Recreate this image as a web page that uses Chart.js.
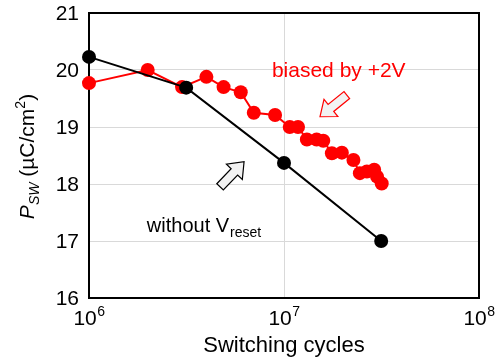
<!DOCTYPE html>
<html><head><meta charset="utf-8">
<script src="https://cdn.jsdelivr.net/npm/chart.js@4/dist/chart.umd.min.js"></script>
<style>html,body{margin:0;padding:0;background:#fff}#wrap{width:500px;height:358px}</style>
</head><body><div id="wrap"><canvas id="c" width="500" height="358"></canvas></div>
<script>
// Data
const blackX = [1e6, 3.15e6, 1e7, 3.15e7];
const blackY = [20.23, 19.69, 18.37, 17.0];
const redX = [1e6, 2e6, 3e6, 4e6, 4.9e6, 6e6, 7e6, 9e6, 1.07e7, 1.18e7, 1.31e7, 1.47e7, 1.59e7, 1.76e7, 1.98e7, 2.27e7, 2.45e7, 2.66e7, 2.9e7, 3e7, 3.17e7];
const redY = [19.77, 20.0, 19.70, 19.88, 19.70, 19.61, 19.25, 19.21, 19.0, 19.0, 18.78, 18.78, 18.76, 18.54, 18.55, 18.42, 18.19, 18.22, 18.25, 18.13, 18.01];
const xTickExp = [6, 7, 8];
const yTicks = [16, 17, 18, 19, 20, 21];
const xTitle = 'Switching cycles';
const redLabel = 'biased by +2V';
const blackLabel = 'without V';
const blackLabelSub = 'reset';
// annotation anchors in data coordinates
const redLabelPos = {x: 8.67e6, y: 19.88};
const blackLabelPos = {x: 1.98e6, y: 17.16};
const redArrow = {tail: {x: 2.1e7, y: 19.56}, tip: {x: 1.53e7, y: 19.18}};
const blackArrow = {tail: {x: 4.7e6, y: 17.95}, tip: {x: 6.24e6, y: 18.39}};

const FONT = "'Liberation Sans', Arial, sans-serif";
const toPts = (xs, ys) => xs.map((x, i) => ({x: x, y: ys[i]}));

function drawArrow(ctx, x1, y1, x2, y2, stroke) {
  const dx = x2 - x1, dy = y2 - y1;
  const L = Math.hypot(dx, dy);
  const ang = Math.atan2(dy, dx);
  const sw = 4.5, hw = 11, hl = 14;
  ctx.save();
  ctx.translate(x1, y1);
  ctx.rotate(ang);
  ctx.beginPath();
  ctx.moveTo(0, -sw);
  ctx.lineTo(L - hl, -sw);
  ctx.lineTo(L - hl, -hw);
  ctx.lineTo(L, 0);
  ctx.lineTo(L - hl, hw);
  ctx.lineTo(L - hl, sw);
  ctx.lineTo(0, sw);
  ctx.closePath();
  ctx.fillStyle = '#f2f2f2';
  ctx.fill();
  ctx.strokeStyle = stroke;
  ctx.lineWidth = 1.2;
  ctx.stroke();
  ctx.restore();
}

const decor = {
  id: 'decor',
  beforeDatasetsDraw(chart) {
    const ctx = chart.ctx, a = chart.chartArea;
    ctx.save();
    ctx.strokeStyle = '#000';
    ctx.lineWidth = 2;
    ctx.strokeRect(a.left, a.top, a.right - a.left, a.bottom - a.top);
    ctx.restore();
  },
  afterDraw(chart) {
    const ctx = chart.ctx, a = chart.chartArea;
    const xs = chart.scales.x, ys = chart.scales.y;
    ctx.save();
    ctx.fillStyle = '#000';
    // y tick labels
    ctx.font = '21px ' + FONT;
    ctx.textAlign = 'right';
    ctx.textBaseline = 'middle';
    yTicks.forEach(v => ctx.fillText(String(v), a.left - 10, ys.getPixelForValue(v) + 1));
    // x tick labels 10^n
    xTickExp.forEach(e => {
      const px = xs.getPixelForValue(Math.pow(10, e));
      ctx.font = '21px ' + FONT;
      const w1 = ctx.measureText('10').width;
      ctx.font = '14px ' + FONT;
      const w2 = ctx.measureText(String(e)).width;
      const x0 = px - (w1 + w2) / 2;
      ctx.textAlign = 'left';
      ctx.textBaseline = 'alphabetic';
      ctx.font = '21px ' + FONT;
      ctx.fillText('10', x0, a.bottom + 27);
      ctx.font = '14px ' + FONT;
      ctx.fillText(String(e), x0 + w1 + 0.5, a.bottom + 18);
    });
    // x title
    ctx.font = '22px ' + FONT;
    ctx.textAlign = 'center';
    ctx.fillText(xTitle, (a.left + a.right) / 2, 352);
    // y title (rotated)
    ctx.save();
    ctx.translate(34, (a.top + a.bottom) / 2 + 1);
    ctx.rotate(-Math.PI / 2);
    const parts = [
      {t: 'P', f: 'italic 21px ' + FONT, dy: 0},
      {t: 'SW', f: 'italic 14px ' + FONT, dy: 5},
      {t: ' (\u00B5C/cm', f: '21px ' + FONT, dy: 0},
      {t: '2', f: '14px ' + FONT, dy: -9},
      {t: ')', f: '21px ' + FONT, dy: 0}
    ];
    let tw = 0;
    parts.forEach(p => { ctx.font = p.f; p.w = ctx.measureText(p.t).width; tw += p.w; });
    let cx = -tw / 2;
    ctx.textAlign = 'left';
    ctx.textBaseline = 'alphabetic';
    parts.forEach(p => { ctx.font = p.f; ctx.fillText(p.t, cx, p.dy); cx += p.w; });
    ctx.restore();
    // annotations
    ctx.textAlign = 'left';
    ctx.textBaseline = 'alphabetic';
    ctx.fillStyle = '#ff0000';
    ctx.font = '21px ' + FONT;
    ctx.fillText(redLabel, xs.getPixelForValue(redLabelPos.x), ys.getPixelForValue(redLabelPos.y));
    ctx.fillStyle = '#000';
    ctx.font = '20px ' + FONT;
    const bx = xs.getPixelForValue(blackLabelPos.x), by = ys.getPixelForValue(blackLabelPos.y);
    ctx.fillText(blackLabel, bx, by);
    const bw = ctx.measureText(blackLabel).width;
    ctx.font = '14px ' + FONT;
    ctx.fillText(blackLabelSub, bx + bw + 1, by + 5);
    drawArrow(ctx, xs.getPixelForValue(redArrow.tail.x), ys.getPixelForValue(redArrow.tail.y),
      xs.getPixelForValue(redArrow.tip.x), ys.getPixelForValue(redArrow.tip.y), '#ff0000');
    drawArrow(ctx, xs.getPixelForValue(blackArrow.tail.x), ys.getPixelForValue(blackArrow.tail.y),
      xs.getPixelForValue(blackArrow.tip.x), ys.getPixelForValue(blackArrow.tip.y), '#000000');
    ctx.restore();
  }
};

new Chart(document.getElementById('c'), {
  type: 'scatter',
  data: {
    datasets: [
      {data: toPts(blackX, blackY), showLine: true, borderColor: '#000', backgroundColor: '#000',
       borderWidth: 2, pointRadius: 7, pointHoverRadius: 7, pointBorderWidth: 0, clip: false},
      {data: toPts(redX, redY), showLine: true, borderColor: '#ff0000', backgroundColor: '#ff0000',
       borderWidth: 2, pointRadius: 7, pointHoverRadius: 7, pointBorderWidth: 0, clip: false}
    ]
  },
  options: {
    responsive: false,
    animation: false,
    events: [],
    layout: {padding: {top: 13, right: 21, left: 0, bottom: 0}},
    plugins: {legend: {display: false}, tooltip: {enabled: false}},
    scales: {
      x: {
        type: 'logarithmic', min: 1e6, max: 1e8,
        afterBuildTicks: s => { s.ticks = xTickExp.map(e => ({value: Math.pow(10, e)})); },
        afterFit: s => { s.height = 60; },
        ticks: {display: false},
        grid: {color: '#d9d9d9', lineWidth: 1, drawTicks: false},
        border: {display: false}
      },
      y: {
        type: 'linear', min: 16, max: 21,
        afterBuildTicks: s => { s.ticks = yTicks.map(v => ({value: v})); },
        afterFit: s => { s.width = 89; },
        ticks: {display: false},
        grid: {color: '#d9d9d9', lineWidth: 1, drawTicks: false},
        border: {display: false}
      }
    }
  },
  plugins: [decor]
});
</script>
</body></html>
